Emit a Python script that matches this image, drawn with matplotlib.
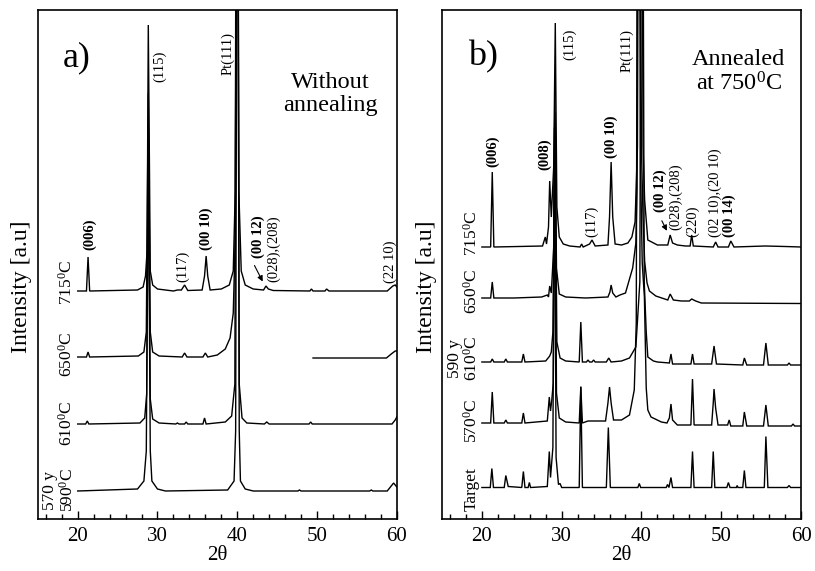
import numpy as np
import matplotlib
matplotlib.use('Agg')
import matplotlib.pyplot as plt
from matplotlib.ticker import MultipleLocator

plt.rcParams['font.family'] = ['Liberation Serif', 'DejaVu Serif']
plt.rcParams['mathtext.fontset'] = 'custom'
plt.rcParams['mathtext.rm'] = 'Liberation Serif'
plt.rcParams['mathtext.it'] = 'Liberation Serif:italic'
plt.rcParams['mathtext.bf'] = 'Liberation Serif:bold'

NAN = float('nan')

# ---------------- Panel a) : without annealing ----------------
# (2theta, intensity above own baseline)
A_715 = [(20, 0), (21.1, 0), (21.3, 34), (21.5, 0), (27.5, 1), (28.2, 4), (28.5, 15), (28.7, 40),
         (28.85, 266), (29.0, 120), (29.1, 20), (29.4, 6), (30, 2), (32.0, 0), (32.5, 1), (33.0, 1),
         (33.4, 6), (33.8, 0.5), (35.6, 1), (35.9, 15), (36.1, 35), (36.3, 15), (36.6, 1), (38, 2),
         (39, 6), (39.5, 20), (39.75, 100), (39.9, 600), (40.05, 600), (40.2, 100), (40.5, 20),
         (41, 6), (42, 2), (43.3, 1), (43.6, 5), (43.9, 2), (44.5, 0.5), (49.1, 0), (49.3, 2),
         (49.5, 0), (51.0, 0), (51.2, 2), (51.5, 0), (58.8, 0), (59.5, 5), (59.8, 6), (60, 4)]
A_650 = [(20, 0), (21.1, 0), (21.3, 5), (21.5, 0), (27.6, 1), (28.3, 5), (28.6, 25), (28.85, 264),
         (29.1, 25), (29.4, 5), (30.2, 1), (33.1, 0), (33.4, 4), (33.7, 0), (35.7, 0), (36.0, 4),
         (36.3, 0), (37.5, 2), (38.5, 8), (39.1, 19), (39.5, 44), (39.75, 120), (39.95, 600),
         (40.1, 600), (NAN, NAN), (49.5, -1), (58.7, -1), (59.3, 3), (59.8, 6), (60, 6)]
A_610 = [(20, 0), (21.0, 0), (21.2, 3), (21.4, 0), (27.8, 1), (28.4, 6), (28.65, 30), (28.85, 300),
         (29.1, 25), (29.4, 5), (30.2, 1), (32.3, 0), (32.5, 1), (32.7, 0), (33.4, 0), (33.6, 2),
         (33.8, 0), (35.7, 0), (35.9, 6), (36.1, 0), (38.5, 2), (39.3, 8), (39.7, 40), (39.9, 600),
         (40.05, 600), (40.25, 40), (40.6, 6), (41.2, 1), (43.4, 0), (43.7, 2), (44.0, 0),
         (49.0, 0), (49.2, 2), (49.4, 0), (59.4, 0), (59.8, 4), (60, 7)]
A_590 = [(20, 0), (27.5, 2), (28.3, 10), (28.6, 40), (28.85, 340), (29.1, 40), (29.3, 10),
         (30.0, 2), (31, 0), (38.8, 1), (39.6, 10), (39.8, 60), (39.95, 600), (40.1, 600),
         (40.25, 60), (40.4, 10), (41.0, 2), (42, 0), (47.6, 0), (47.8, 1), (48.0, 0), (56.6, 0),
         (56.8, 1), (57.0, 0), (58.8, 0), (59.2, 4), (59.6, 8), (60, 4)]
A_CURVES = [A_715, A_650, A_610, A_590]
A_OFFSETS = [228, 162, 95, 28]
A_TEMPS = ['715$^\\mathrm{0}$C', '650$^\\mathrm{0}$C', '610$^\\mathrm{0}$C', '570 y\n590$^\\mathrm{0}$C']
A_TEMP_POS = [(18.6, 237), (18.6, 165), (18.6, 95.5), (17.7, 29)]
A_PEAK_LABELS = [(21.55, 269, '(006)', True), (30.3, 437, '(115)', False), (33.2, 237, '(117)', False),
                 (36.1, 269, '(00 10)', True), (38.85, 444, 'Pt(111)', False),
                 (42.65, 261, '(00 12)', True), (44.5, 237, '(028),(208)', False),
                 (59.2, 236, '(22 10)', False)]

# ---------------- Panel b) : annealed at 750 C ----------------
B_715 = [(20, 0), (21.1, 0), (21.3, 75), (21.5, 0), (27.6, 1), (27.95, 10), (28.1, 3), (28.35, 20),
         (28.5, 66), (28.7, 30), (29.0, 80), (29.2, 224), (29.4, 40), (29.7, 10), (30.2, 3), (31, 1),
         (32.3, 0), (32.5, 3), (32.7, 0), (33.5, 3), (33.8, 7), (34.2, 1), (35.8, 2), (36.0, 30),
         (36.2, 85), (36.4, 30), (36.7, 3), (37.5, 2), (38.3, 4), (38.8, 10), (39.2, 25),
         (39.5, 100), (39.7, 600), (40.0, 600), (40.2, 100), (40.4, 47), (40.8, 7), (42, 2),
         (43.3, 2), (43.6, 12), (43.9, 4), (44.5, 2), (45.5, 1), (46.1, 1), (46.3, 12), (46.5, 1),
         (49.0, 0), (49.3, 5), (49.6, 0), (50.9, 0), (51.2, 6), (51.6, 0), (55.5, 1), (58, 0.5),
         (60, 0)]
B_650 = [(20, 0), (21.1, 0), (21.3, 16), (21.5, 0), (24, 0), (27.5, 1), (28.2, 3), (28.35, 1),
         (28.5, 12), (28.7, 5), (29.0, 50), (29.15, 205), (29.35, 30), (29.7, 4), (30.5, 1),
         (33, 0), (35.8, 1), (36.05, 6), (36.2, 13), (36.4, 5), (36.8, 1), (37.3, 3), (38.0, 5),
         (38.9, 30), (39.3, 55), (39.45, 110), (39.55, 600), (39.75, 600), (40.0, 150),
         (40.2, 80), (40.4, 37), (40.7, 15), (41.0, 7), (41.8, 2), (43.3, -2), (43.6, 4),
         (44.0, -2), (45, -3), (46.0, -3), (46.3, -1), (46.8, -3), (47.5, -5), (60, -5.5)]
B_610 = [(20, 0), (21.1, 0), (21.3, 3), (21.5, 0), (22.8, 0), (23.0, 3), (23.2, 0), (25.0, 0),
         (25.2, 8), (25.4, 0), (28.0, 1), (28.5, 6), (28.7, 10), (28.9, 30), (29.15, 250),
         (29.4, 20), (29.8, 4), (30.5, 1), (32.2, 0), (32.4, 40), (32.6, 0), (33.1, 0), (33.3, 2),
         (33.5, 0), (33.8, 0), (34.0, 2), (34.2, 0), (35.6, 0), (35.9, 4), (36.2, 0), (37.5, 1),
         (38.5, 4), (39.3, 15), (39.8, 80), (40.0, 600), (40.15, 600), (40.35, 80), (40.6, 30),
         (40.8, 5), (41.5, 1), (42, 0), (43.5, -1), (43.7, 8), (43.9, -2), (46.2, -2), (46.4, 8),
         (46.6, -2), (48.8, -2), (49.1, 16), (49.4, -2), (52.7, -3), (52.9, 4), (53.2, -3),
         (55.3, -3), (55.6, 19), (55.9, -3), (58.3, -3), (58.5, -1), (58.7, -3), (60, -3)]
B_570 = [(20, 0), (21.1, 0), (21.3, 31), (21.5, 0), (22.8, 0), (23.0, 3), (23.2, 0), (25.0, 0),
         (25.2, 10), (25.4, 0), (28.2, 2), (28.45, 26), (28.6, 12), (28.75, 22), (28.95, 40),
         (29.15, 300), (29.35, 30), (29.7, 5), (30.5, 1), (32.2, 0), (32.4, 36), (32.6, 0),
         (33.3, 2), (34, 2), (35.5, 2), (35.8, 20), (36.0, 36), (36.2, 20), (36.5, 3), (37.5, 3),
         (38.5, 8), (39.1, 33), (39.35, 100), (39.5, 600), (39.7, 600), (39.9, 250), (40.1, 160),
         (40.37, 126), (40.6, 35), (40.8, 13), (41.2, 6), (42.5, 1), (43.2, 0), (43.5, 5),
         (43.7, 19), (43.9, 3), (44.5, -2), (46.2, -2), (46.4, 44), (46.6, -2), (48.8, -2),
         (49.0, 20), (49.1, 34), (49.3, 15), (49.6, -2), (50.8, -2), (51.0, 3), (51.2, -3),
         (52.7, -3), (52.9, 11), (53.2, -3), (55.3, -3), (55.6, 18), (55.9, -3), (58.8, -3),
         (59.0, -1), (59.2, -3), (60, -3)]
B_TARGET = [(20, 0), (21.05, 0), (21.25, 19), (21.45, 0), (22.8, 0), (23.0, 12), (23.3, 1),
            (25.0, 0), (25.2, 16), (25.4, 0), (25.8, 0), (25.95, 5), (26.1, 0), (28.2, 1),
            (28.45, 36), (28.6, 10), (28.9, 40), (29.1, 360), (29.3, 30), (29.6, 3), (29.8, 4),
            (30, 0), (32.2, 0), (32.4, 101), (32.6, 0), (35.6, 0), (35.85, 60), (36.1, 0),
            (39.55, 0), (39.73, 4), (39.9, 0), (43.1, 0), (43.27, 3), (43.45, 0), (43.7, 10),
            (43.9, 0), (46.2, 0), (46.4, 36), (46.6, 0), (48.8, 0), (49.0, 36), (49.2, 0),
            (50.7, 0), (50.9, 5), (51.1, 0), (51.9, 0), (52.0, 2), (52.1, 0), (52.7, 0),
            (52.9, 17), (53.1, 0), (55.4, 0), (55.6, 51), (55.85, 0), (58.3, 0), (58.5, 2),
            (58.7, 0), (60, 0)]
B_CURVES = [B_715, B_650, B_610, B_570, B_TARGET]
B_OFFSETS = [272, 221, 157, 96, 31.5]
B_TEMPS = ['715$^\\mathrm{0}$C', '650$^\\mathrm{0}$C', '590 y\n610$^\\mathrm{0}$C', '570$^\\mathrm{0}$C', 'Target']
B_TEMP_POS = [(18.76, 286), (18.76, 228), (17.7, 161), (18.76, 98), (18.76, 30)]
B_PEAK_LABELS = [(21.4, 352, '(006)', True), (27.9, 349, '(008)', True), (31.05, 459, '(115)', False),
                 (33.7, 282, '(117)', False), (36.2, 361, '(00 10)', True),
                 (38.2, 447, 'Pt(111)', False), (42.3, 307, '(00 12)', True),
                 (44.25, 289, '(028),(208)', False), (46.4, 282, '(220)', False),
                 (49.2, 282, '(02 10),(20 10)', False), (51.0, 282, '(00 14)', True)]

XTICKS = [20, 30, 40, 50, 60]

fig = plt.figure(figsize=(8.15, 5.71), dpi=100)
W, H = 815.0, 571.0
axA = fig.add_axes([37.8 / W, 1 - 519 / H, 359 / W, 509 / H])
axB = fig.add_axes([442 / W, 1 - 519 / H, 359 / W, 509 / H])


def draw(ax, curves, offsets, temps, temp_pos, labels, ylab_x):
    for pts, off in zip(curves, offsets):
        xs = np.array([p[0] for p in pts], dtype=float)
        ys = np.array([p[1] for p in pts], dtype=float) + off
        ax.plot(xs, ys, color='black', lw=1.0, solid_joinstyle='miter')
    for t, (x, y) in zip(temps, temp_pos):
        ax.text(x, y, t, rotation=90, ha='center', va='center', fontsize=12.5,
                multialignment='center', linespacing=1.0)
    for x, y, s, b in labels:
        ax.text(x, y, s, rotation=90, ha='center', va='bottom', fontsize=10.5,
                fontweight='bold' if b else 'normal')
    ax.set_xlim(15, 60)
    ax.set_ylim(0, 509)
    ax.set_yticks([])
    ax.set_xticks(XTICKS)
    ax.xaxis.set_minor_locator(MultipleLocator(2))
    ax.tick_params(axis='x', which='major', direction='in', length=6, width=1.0, labelsize=15, pad=6)
    ax.tick_params(axis='x', which='minor', direction='in', length=3.5, width=1.0)
    for sp in ax.spines.values():
        sp.set_linewidth(1.2)
    ax.set_xlabel('2θ', fontsize=15, labelpad=0)
    ax.set_ylabel('Intensity [a.u]', fontsize=17)
    ax.yaxis.set_label_coords(ylab_x, 0.457)


draw(axA, A_CURVES, A_OFFSETS, A_TEMPS, A_TEMP_POS, A_PEAK_LABELS, -0.016)
draw(axB, B_CURVES, B_OFFSETS, B_TEMPS, B_TEMP_POS, B_PEAK_LABELS, -0.014)

axA.text(19.9, 461, 'a)', fontsize=26, ha='center', va='center')
axA.text(51.7, 425, 'Without\nannealing', fontsize=17.5, ha='center', va='center', linespacing=1.1)
axB.text(20.1, 462, 'b)', fontsize=26, ha='center', va='center')
axB.text(52.2, 447, 'Annealed\nat 750$^\\mathrm{0}$C', fontsize=17.5, ha='center', va='center',
         linespacing=1.1)

axA.annotate('', xy=(43.35, 235), xytext=(42.0, 256),
             arrowprops=dict(arrowstyle='-|>', color='black', lw=0.8, mutation_scale=8))
axB.annotate('', xy=(43.35, 285.7), xytext=(42.4, 300.7),
             arrowprops=dict(arrowstyle='-|>', color='black', lw=0.8, mutation_scale=8))

fig.savefig('out.png', dpi=100)
